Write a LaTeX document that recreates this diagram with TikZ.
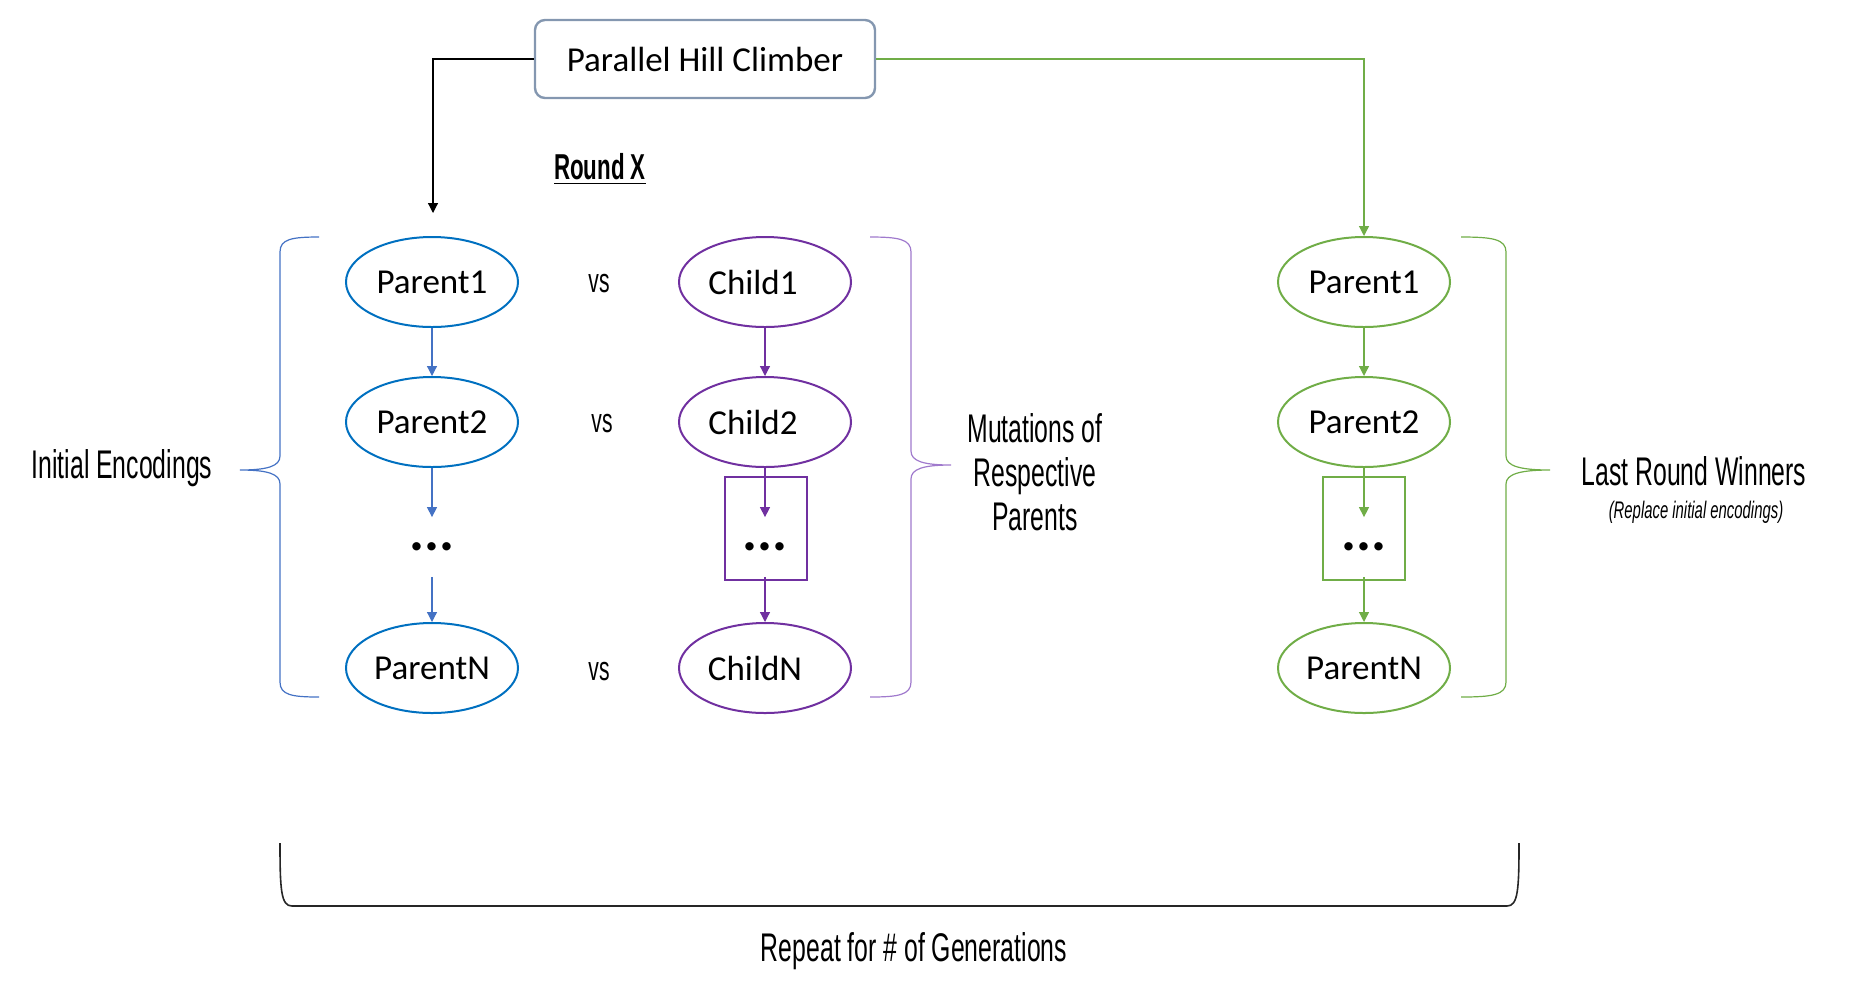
\documentclass[tikz,border=0pt]{standalone}
\usepackage{fontspec}
\setmainfont{Carlito}
\newfontfamily\agency[FakeStretch=0.62]{Liberation Sans}
\usetikzlibrary{arrows.meta,shapes.geometric}
\definecolor{bEll}{HTML}{0070C0}
\definecolor{bLine}{HTML}{4472C4}
\definecolor{pEll}{HTML}{7030A0}
\definecolor{pBrace}{HTML}{A07ACD}
\definecolor{gEll}{HTML}{70AD47}
\definecolor{boxBorder}{HTML}{8497B0}
\tikzset{
  ell/.style={ellipse, draw, line width=1pt, minimum width=86pt, minimum height=45pt, inner sep=0pt,
    font=\fontsize{17.5}{20}\selectfont, text=black},
  bell/.style={ell, draw=bEll},
  pell/.style={ell, draw=pEll},
  gell/.style={ell, draw=gEll},
  dotsn/.style={minimum height=29.5pt, inner sep=0pt, font=\fontsize{28}{30}\selectfont\bfseries},
  dotbox/.style={draw, line width=1pt, minimum width=41pt, minimum height=51.5pt, inner sep=0pt},
  tipped/.style={-{Triangle[width=5pt,length=5pt]}, line width=0.6pt},
  lbl/.style={font=\agency\fontsize{20}{22}\selectfont, align=center, inner sep=0pt},
  vslbl/.style={font=\agency\fontsize{17}{19}\selectfont, inner sep=0pt},
  bracepath/.style={line width=0.6pt},
}
\begin{document}
\begin{tikzpicture}[x=0.5pt, y=-0.5pt]
\useasboundingbox (0,0) rectangle (1852,993);

% top box
\node[draw=boxBorder, line width=1.2pt, rounded corners=5pt, minimum width=170pt, minimum height=39pt,
  font=\fontsize{17.5}{20}\selectfont] (phc) at (705,59) {Parallel Hill Climber};
\coordinate (rin) at (433,213);
\draw[tipped, black] (phc.west) -| (rin);
\draw[tipped, gEll] (phc.east) -| (1364,236);

\node[font=\agency\bfseries\fontsize{18}{20}\selectfont] (rx) at (600,169) {\underline{Round X}};

% blue column
\node[bell] (p1) at (432,282) {Parent1};
\node[bell] (p2) at (432,422) {Parent2};
\node[dotsn] (bd) at (432,547) {...};
\node[bell] (pN) at (432,668) {ParentN};
\draw[tipped, bLine] (p1) -- (p2);
\draw[tipped, bLine] (p2) -- (bd.north);
\draw[tipped, bLine] (bd.south) -- (pN);

% vs
\node[vslbl] (vs1) at (599,284) {vs};
\node[vslbl] (vs2) at (602,424) {vs};
\node[vslbl] (vs3) at (599,672) {vs};

% purple column
\node[pell] (c1) at (765,282) {\hspace*{-12pt}Child1};
\node[pell] (c2) at (765,422) {\hspace*{-12pt}Child2};
\node[dotbox, draw=pEll] (cbox) at (766,528) {};
\node[dotsn] (cd) at (765,547) {...};
\node[pell] (cN) at (765,668) {\hspace*{-10pt}ChildN};
\draw[tipped, pEll] (c1) -- (c2);
\draw[tipped, pEll] (c2) -- (cd.north);
\draw[tipped, pEll] (cd.south) -- (cN);

% green column
\node[gell] (g1) at (1364,282) {Parent1};
\node[gell] (g2) at (1364,422) {Parent2};
\node[dotbox, draw=gEll] (gbox) at (1364,528) {};
\node[dotsn] (gd) at (1364,547) {...};
\node[gell] (gN) at (1364,668) {ParentN};
\draw[tipped, gEll] (g1) -- (g2);
\draw[tipped, gEll] (g2) -- (gd.north);
\draw[tipped, gEll] (gd.south) -- (gN);

% braces
\draw[bracepath, bLine] (319,237) .. controls (292,237) and (280,239) .. (280,252) -- (280,456)
  .. controls (280,466) and (268,470) .. (240,470) .. controls (268,470) and (280,474) .. (280,484)
  -- (280,682) .. controls (280,695) and (292,697) .. (319,697);
\draw[bracepath, pBrace] (870,237) .. controls (898,237) and (911,239) .. (911,252) -- (911,451)
  .. controls (911,461) and (923,465) .. (951,465) .. controls (923,465) and (911,469) .. (911,479)
  -- (911,682) .. controls (911,695) and (898,697) .. (870,697);
\draw[bracepath, gEll] (1461,237) .. controls (1492,237) and (1506,239) .. (1506,252) -- (1506,456)
  .. controls (1506,466) and (1520,470) .. (1550,470) .. controls (1520,470) and (1506,474) .. (1506,484)
  -- (1506,682) .. controls (1506,695) and (1492,697) .. (1461,697);
\draw[line width=0.8pt, black!85] (280,843) .. controls (280,890) and (281,906) .. (292,906) -- (1507,906)
  .. controls (1518,906) and (1519,890) .. (1519,843);

% labels
\node[lbl] (ie) at (122,468) {Initial Encodings};
\node[lbl] (mut) at (1035,472) {Mutations of\\Respective\\Parents};
\node[lbl] (lrw) at (1694,471) {Last Round Winners};
\node[font=\agency\itshape\fontsize{12}{14}\selectfont, inner sep=0pt] (rep) at (1696,512) {(Replace initial encodings)};
\node[lbl] (gen) at (914,951) {Repeat for \# of Generations};
\end{tikzpicture}
\end{document}
